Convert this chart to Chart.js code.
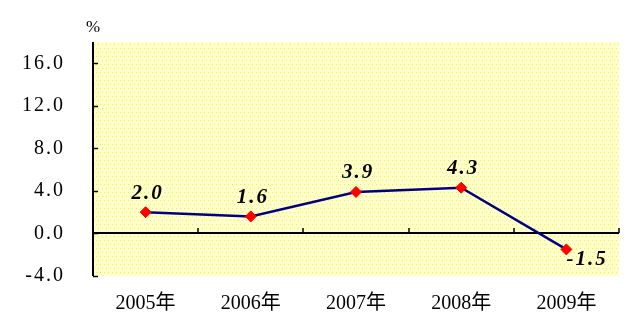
<!DOCTYPE html>
<html>
<head>
<meta charset="utf-8">
<script src="https://cdn.jsdelivr.net/npm/chart.js@4.4.1/dist/chart.umd.min.js"></script>
<style>
html,body{margin:0;padding:0;background:#fff;}
#c{display:block;}
</style>
</head>
<body>
<canvas id="c" width="644" height="330"></canvas>
<script>
const categories = ['2005年', '2006年', '2007年', '2008年', '2009年'];
const growthRates = [2.0, 1.6, 3.9, 4.3, -1.5];
const yTickValues = [-4, 0, 4, 8, 12, 16];
const unitLabel = '%';

const SERIF = "'Liberation Serif', 'Times New Roman', 'Noto Sans CJK SC', serif";

function makePattern(ctx) {
  const t = document.createElement('canvas');
  t.width = 4; t.height = 8;
  const g = t.getContext('2d');
  g.fillStyle = '#FFFFCC';
  g.fillRect(0, 0, 4, 8);
  g.fillStyle = '#F0F040';
  g.fillRect(0, 0, 1, 1);
  g.fillRect(2, 4, 1, 1);
  return ctx.createPattern(t, 'repeat');
}

const decorPlugin = {
  id: 'decor',
  beforeDraw(chart) {
    const { ctx, chartArea: a } = chart;
    const ys = chart.scales.y;
    if (ys && !ys._spaced) {
      const orig = ys.drawLabels.bind(ys);
      ys.drawLabels = function (area) {
        ctx.save();
        ctx.letterSpacing = '2px';
        orig(area);
        ctx.restore();
      };
      ys._spaced = true;
    }
    ctx.save();
    ctx.fillStyle = makePattern(ctx);
    ctx.fillRect(a.left, a.top, a.right - a.left, a.bottom - a.top);
    ctx.restore();
  },
  beforeDatasetsDraw(chart) {
    const { ctx, chartArea: a, scales } = chart;
    const x = scales.x, y = scales.y;
    ctx.save();
    ctx.strokeStyle = '#000';
    ctx.lineWidth = 2;
    ctx.beginPath();
    ctx.moveTo(a.left, a.top);
    ctx.lineTo(a.left, a.bottom);
    ctx.stroke();
    yTickValues.forEach(v => {
      const py = Math.round(y.getPixelForValue(v)) + 0.5;
      ctx.beginPath();
      ctx.lineWidth = 1.5;
      ctx.moveTo(a.left, py);
      ctx.lineTo(a.left + 5, py);
      ctx.stroke();
    });
    const zy = Math.round(y.getPixelForValue(0));
    ctx.lineWidth = 2;
    ctx.beginPath();
    ctx.moveTo(a.left, zy);
    ctx.lineTo(a.right, zy);
    ctx.stroke();
    const half = (x.getPixelForValue(1) - x.getPixelForValue(0)) / 2;
    ctx.lineWidth = 1.5;
    for (let i = 0; i < categories.length; i++) {
      const bx = Math.round(x.getPixelForValue(i) + half);
      ctx.beginPath();
      ctx.moveTo(bx, zy);
      ctx.lineTo(bx, zy - 5);
      ctx.stroke();
    }
    ctx.restore();
  },
  afterDatasetsDraw(chart) {
    const { ctx, chartArea: a } = chart;
    const meta = chart.getDatasetMeta(0);
    ctx.save();
    ctx.fillStyle = '#000';
    ctx.font = 'italic bold 21px ' + SERIF;
    ctx.letterSpacing = '2px';
    meta.data.forEach((pt, i) => {
      const v = growthRates[i];
      const txt = v.toFixed(1);
      ctx.textBaseline = 'middle';
      if (v >= 0) {
        ctx.textAlign = 'center';
        ctx.fillText(txt, pt.x + 2, pt.y - 19);
      } else {
        ctx.textAlign = 'left';
        ctx.fillText(txt, pt.x, pt.y + 10);
      }
    });
    ctx.letterSpacing = '0px';
    ctx.font = '17px ' + SERIF;
    ctx.textAlign = 'center';
    ctx.textBaseline = 'alphabetic';
    ctx.fillText(unitLabel, a.left, a.top - 10);
    ctx.restore();
  }
};

new Chart(document.getElementById('c'), {
  type: 'line',
  data: {
    labels: categories,
    datasets: [{
      data: growthRates,
      borderColor: '#000080',
      borderWidth: 2.5,
      pointStyle: 'rectRot',
      pointRadius: 5.5,
      pointBackgroundColor: '#FF0000',
      pointBorderColor: '#FF0000',
      pointBorderWidth: 1,
      tension: 0,
      clip: false
    }]
  },
  options: {
    responsive: false,
    animation: false,
    devicePixelRatio: 1,
    layout: { padding: { top: 42, right: 25, left: 0, bottom: 0 } },
    plugins: { legend: { display: false }, tooltip: { enabled: false }, title: { display: false } },
    scales: {
      x: {
        type: 'category',
        offset: true,
        grid: { display: false, drawTicks: false },
        border: { display: false },
        ticks: { color: '#000', font: { family: SERIF, size: 20 }, padding: 16, maxRotation: 0 },
        afterFit(s) { s.height = 54; }
      },
      y: {
        min: -4,
        max: 18,
        grid: { display: false, drawTicks: false },
        border: { display: false },
        afterBuildTicks(s) { s.ticks = yTickValues.map(v => ({ value: v })); },
        ticks: {
          color: '#000',
          font: { family: SERIF, size: 20 },
          padding: 28,
          callback: v => Number(v).toFixed(1)
        },
        afterFit(s) { s.width = 93; }
      }
    }
  },
  plugins: [decorPlugin]
});
</script>
</body>
</html>
